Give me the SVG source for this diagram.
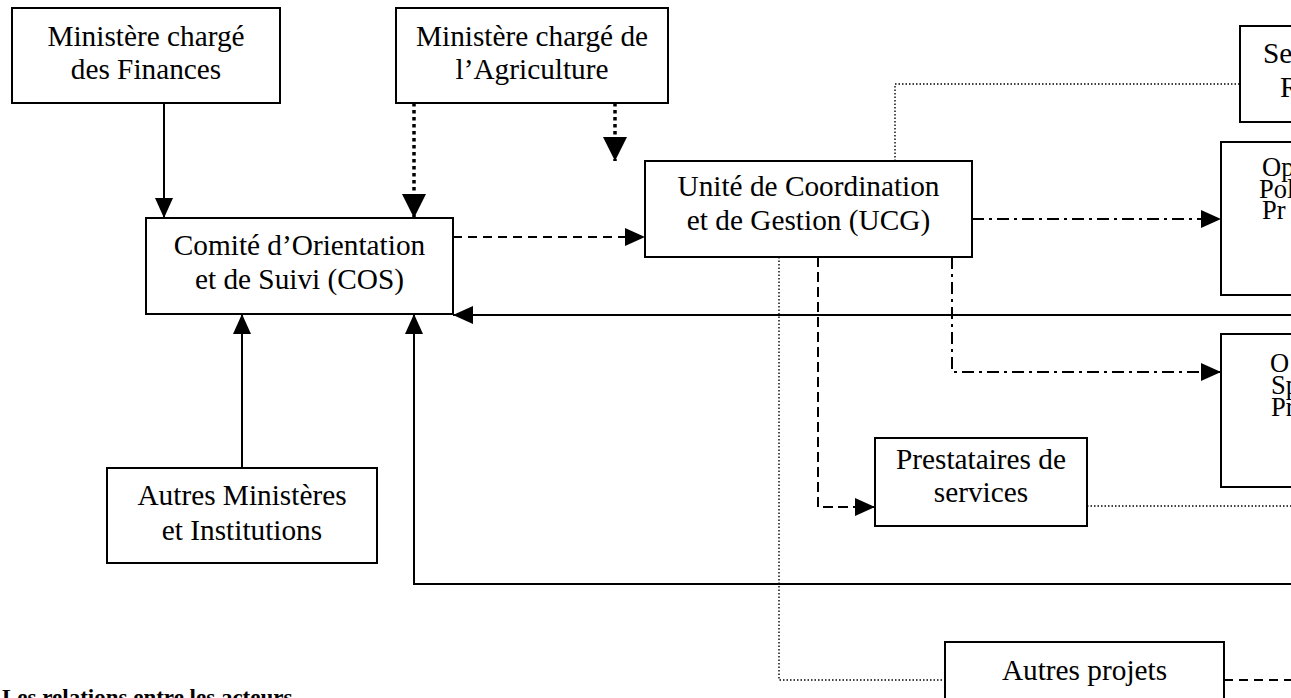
<svg xmlns="http://www.w3.org/2000/svg" width="1291" height="698" viewBox="0 0 1291 698">
<style>
.box{fill:#fff;stroke:#000;stroke-width:2}
.t{font-family:"Liberation Serif","Times New Roman",serif;font-size:29.3px;fill:#000;text-anchor:middle}
.ts{font-family:"Liberation Serif","Times New Roman",serif;font-size:29.3px;fill:#000}
.tr{font-family:"Liberation Serif","Times New Roman",serif;font-size:26.5px;fill:#000}
.c{fill:none;stroke:#000;stroke-width:2}
.thickdot{stroke-width:3.5;stroke-dasharray:3.5 3.5}
.dot{stroke-width:1.4;stroke-dasharray:1.5 2}
.dash{stroke-dasharray:9 6}
.dashdot{stroke-dasharray:12 5 3 5}
.ldash{stroke-dasharray:10 5}
</style>
<defs>
<marker id="a" viewBox="0 0 20 18" markerWidth="20" markerHeight="18" markerUnits="userSpaceOnUse" refX="20" refY="9" orient="auto"><path d="M0,0 L20,9 L0,18 Z" fill="#000"/></marker>
<marker id="ab" viewBox="0 0 24 24" markerWidth="24" markerHeight="24" markerUnits="userSpaceOnUse" refX="24" refY="12" orient="auto"><path d="M0,0 L24,12 L0,24 Z" fill="#000"/></marker>
</defs>
<rect width="1291" height="698" fill="#fff"/>
<g id="connectors">
<path class="c" d="M164,103 V218" marker-end="url(#a)"/>
<path class="c thickdot" d="M414,103 V218" marker-end="url(#ab)"/>
<path class="c thickdot" d="M615,103 V161" marker-end="url(#ab)"/>
<path class="c dash" d="M453,237 H645" marker-end="url(#a)"/>
<path class="c dashdot" d="M972,219 H1221" marker-end="url(#a)"/>
<path class="c dashdot" d="M952,257 V372 H1221" marker-end="url(#a)"/>
<path class="c ldash" d="M818,257 V507 H875" marker-end="url(#a)"/>
<path class="c dot" d="M779,257 V680 H945"/>
<path class="c dot" d="M895,161 V84 H1240"/>
<path class="c" d="M1291,315 H453" marker-end="url(#a)"/>
<path class="c" d="M1291,584 H414 V314" marker-end="url(#a)"/>
<path class="c" d="M242,468 V314" marker-end="url(#a)"/>
<path class="c dot" d="M1087,506 H1291"/>
<path class="c dash" d="M1224,680 H1291"/>
</g>
<g id="n-finances"><rect class="box" x="12" y="8" width="268" height="95"/><text class="t" x="146" y="46">Ministère chargé</text><text class="t" x="146" y="79">des Finances</text></g>
<g id="n-agriculture"><rect class="box" x="396" y="8" width="272" height="95"/><text class="t" x="532" y="46">Ministère chargé de</text><text class="t" x="532" y="79">l’Agriculture</text></g>
<g id="n-cos"><rect class="box" x="146" y="218" width="307" height="96"/><text class="t" x="299.5" y="255">Comité d’Orientation</text><text class="t" x="299.5" y="289">et de Suivi (COS)</text></g>
<g id="n-ucg"><rect class="box" x="645" y="161" width="327" height="96"/><text class="t" x="808.5" y="196">Unité de Coordination</text><text class="t" x="808.5" y="230">et de Gestion (UCG)</text></g>
<g id="n-autresmin"><rect class="box" x="107" y="468" width="270" height="95"/><text class="t" x="242" y="505">Autres Ministères</text><text class="t" x="242" y="540">et Institutions</text></g>
<g id="n-prestataires"><rect class="box" x="875" y="438" width="212" height="88"/><text class="t" x="981" y="469">Prestataires de</text><text class="t" x="981" y="502">services</text></g>
<g id="n-autresprojets"><rect class="box" x="945" y="642" width="279" height="80"/><text class="t" x="1084.5" y="680">Autres projets</text></g>
<g id="n-se"><rect class="box" x="1240" y="26" width="80" height="96"/><text class="ts" x="1263" y="63">Se</text><text class="ts" x="1280" y="97">R</text></g>
<g id="n-op"><rect class="box" x="1221" y="142" width="100" height="153"/><text class="tr" x="1262" y="176">Op</text><text class="tr" x="1259" y="198">Pol</text><text class="tr" x="1262" y="219">Pr</text></g>
<g id="n-o"><rect class="box" x="1221" y="334" width="100" height="153"/><text class="tr" x="1270" y="372">O</text><text class="tr" x="1271" y="394">Sp</text><text class="tr" x="1271" y="416">Pr</text></g>
<text x="2" y="705" style="font-family:'Liberation Serif','Times New Roman',serif;font-size:23px;font-weight:bold">Les relations entre les acteurs</text>
</svg>
